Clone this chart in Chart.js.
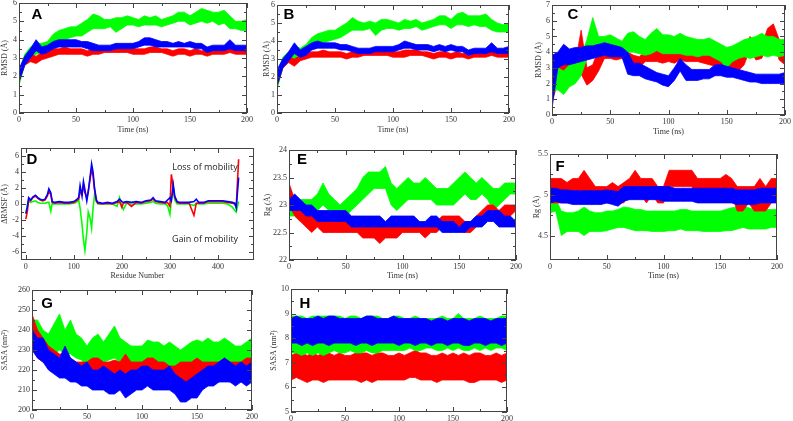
<!DOCTYPE html>
<html>
<head>
<meta charset="utf-8">
<script src="https://cdn.jsdelivr.net/npm/chart.js@4"></script>
<style>
  body { margin: 0; background: #fff; }
  #wrap { position: relative; width: 793px; height: 421px; overflow: hidden; }
  .panel { position: absolute; }
</style>
</head>
<body>
<div id="wrap"></div>
<script>
// time axis (ns), sampled every 5 ns
const TIME = [0,5,10,15,20,25,30,35,40,45,50,55,60,65,70,75,80,85,90,95,100,105,110,115,120,125,130,135,140,145,150,155,160,165,170,175,180,185,190,195,200];

// tick labels
const TICKS_TIME = [0,50,100,150,200];
const TICKS_RMSD = [0,1,2,3,4,5,6];
const TICKS_RMSD_C = [0,1,2,3,4,5,6,7];
const TICKS_RES = [0,100,200,300,400];
const TICKS_DRMSF = [-6,-4,-2,0,2,4,6];
const TICKS_RG_E = [22,22.5,23,23.5,24];
const TICKS_RG_F = [4.5,5,5.5];
const TICKS_SASA_G = [200,210,220,230,240,250,260];
const TICKS_SASA_H = [5,6,7,8,9,10];

// A - RMSD (lower / upper edge of each noisy trace)
const aGreenLo = [1.5,2.6,3.0,3.2,3.3,3.4,3.6,3.8,4.0,4.1,4.2,4.2,4.4,4.6,4.6,4.6,4.7,4.4,4.6,4.8,4.8,4.7,4.8,4.8,4.8,4.7,4.8,4.9,5.0,5.0,4.8,4.9,5.0,4.9,5.0,4.8,4.9,4.6,4.6,4.5,4.5];
const aGreenHi = [2.2,3.2,3.6,3.8,3.8,3.9,4.3,4.5,4.6,4.7,4.7,4.9,5.1,5.4,5.3,5.1,5.1,5.2,5.2,5.3,5.2,5.1,5.3,5.2,5.3,5.1,5.2,5.3,5.5,5.5,5.3,5.5,5.7,5.6,5.5,5.5,5.6,5.3,5.0,5.0,5.1];
const aBlueLo = [1.7,2.6,3.0,3.4,3.2,3.3,3.5,3.6,3.6,3.6,3.6,3.6,3.5,3.4,3.4,3.4,3.4,3.5,3.5,3.5,3.5,3.6,3.7,3.7,3.6,3.6,3.6,3.6,3.6,3.6,3.6,3.5,3.5,3.3,3.4,3.4,3.4,3.5,3.4,3.4,3.4];
const aBlueHi = [2.4,3.1,3.5,4.0,3.6,3.7,3.9,4.0,4.0,4.0,4.0,3.9,3.9,3.8,3.7,3.7,3.7,3.8,3.8,3.8,3.8,3.9,4.1,4.1,4.0,3.9,3.9,3.8,3.9,3.8,3.9,3.8,3.8,3.6,3.7,3.7,3.7,4.0,3.7,3.7,3.7];
const aRedLo = [1.7,2.6,2.8,2.7,2.9,3.0,3.1,3.2,3.2,3.2,3.2,3.2,3.1,3.2,3.2,3.3,3.3,3.3,3.3,3.3,3.2,3.2,3.2,3.3,3.3,3.3,3.2,3.1,3.2,3.2,3.1,3.2,3.2,3.1,3.2,3.2,3.2,3.3,3.2,3.2,3.2];
const aRedHi = [2.3,3.0,3.2,3.1,3.3,3.4,3.5,3.5,3.6,3.5,3.5,3.5,3.4,3.5,3.5,3.6,3.6,3.6,3.6,3.5,3.5,3.5,3.5,3.6,3.6,3.5,3.5,3.4,3.5,3.5,3.4,3.5,3.4,3.4,3.5,3.5,3.5,3.6,3.5,3.5,3.5];

// B - RMSD
const bGreenLo = [1.3,2.5,2.8,3.0,3.1,3.2,3.6,3.8,3.9,4.0,4.1,4.2,4.4,4.6,4.6,4.6,4.7,4.3,4.6,4.7,4.7,4.6,4.7,4.7,4.8,4.6,4.7,4.8,4.9,4.9,4.7,4.9,4.9,4.8,4.9,4.8,4.8,4.6,4.5,4.5,4.5];
const bGreenHi = [2.2,3.1,3.4,3.7,3.6,3.8,4.2,4.4,4.5,4.6,4.6,4.8,5.0,5.3,5.1,5.0,5.1,5.0,5.2,5.2,5.1,5.0,5.2,5.1,5.2,5.0,5.1,5.2,5.4,5.4,5.2,5.5,5.6,5.4,5.4,5.4,5.5,5.2,5.0,4.9,5.0];
const bBlueLo = [1.5,2.5,2.9,3.3,3.1,3.2,3.5,3.6,3.6,3.6,3.6,3.5,3.5,3.4,3.3,3.3,3.3,3.4,3.4,3.4,3.4,3.5,3.6,3.6,3.5,3.5,3.5,3.4,3.5,3.4,3.5,3.4,3.4,3.2,3.3,3.3,3.3,3.4,3.3,3.3,3.3];
const bBlueHi = [2.4,3.0,3.4,3.9,3.5,3.7,3.9,4.0,3.9,3.9,3.9,3.8,3.8,3.7,3.6,3.6,3.6,3.7,3.7,3.7,3.7,3.8,4.0,3.9,3.8,3.8,3.8,3.7,3.8,3.7,3.8,3.7,3.7,3.5,3.6,3.6,3.6,3.9,3.6,3.6,3.7];
const bRedLo = [1.5,2.5,2.8,2.6,2.9,3.0,3.1,3.1,3.1,3.1,3.1,3.1,3.0,3.1,3.1,3.2,3.2,3.2,3.2,3.2,3.1,3.1,3.1,3.2,3.2,3.2,3.1,3.0,3.1,3.1,3.0,3.1,3.1,3.0,3.1,3.1,3.1,3.2,3.1,3.1,3.1];
const bRedHi = [2.2,2.9,3.1,3.0,3.2,3.3,3.4,3.4,3.5,3.4,3.4,3.4,3.3,3.4,3.4,3.5,3.5,3.5,3.5,3.4,3.4,3.4,3.5,3.5,3.5,3.4,3.4,3.3,3.4,3.4,3.3,3.4,3.3,3.3,3.4,3.4,3.4,3.5,3.5,3.5,3.6];

// C - RMSD
const cBlueLo = [0.4,3.0,3.2,3.2,3.3,3.4,3.5,3.6,3.7,3.8,3.7,3.7,3.7,2.6,2.5,2.5,2.3,2.2,2.1,1.9,1.8,2.2,2.8,2.2,2.2,2.2,2.3,2.3,2.5,2.5,2.4,2.4,2.3,2.2,2.1,2.1,2.0,2.0,2.0,2.0,2.0];
const cBlueHi = [3.8,4.0,4.5,4.2,4.3,4.3,4.4,4.4,4.5,4.6,4.5,4.4,4.3,4.0,3.3,3.3,3.1,2.9,2.7,2.6,2.5,3.0,3.6,3.2,2.9,2.9,2.9,2.9,3.2,3.2,3.1,3.0,2.9,2.8,2.7,2.6,2.6,2.6,2.6,2.6,2.7];
const cGreenLo = [1.5,1.6,1.3,1.8,2.0,2.5,3.6,3.9,3.9,3.8,3.9,3.9,3.8,4.0,4.0,3.9,3.8,3.9,4.1,3.9,3.9,3.9,3.9,3.8,3.8,3.7,3.8,3.8,3.6,3.4,3.0,3.4,3.6,3.7,3.6,3.7,3.8,3.7,3.8,3.7,3.8];
const cGreenHi = [2.8,3.0,2.8,3.2,3.4,3.8,4.8,6.2,5.0,5.0,5.1,4.9,4.7,5.2,5.3,5.0,4.8,5.2,5.5,5.1,5.1,5.0,5.2,5.0,4.9,4.8,4.8,4.9,4.7,4.5,4.3,4.4,4.6,4.8,4.9,5.0,5.2,5.0,5.0,4.8,4.8];
const cRedLo = [0.9,2.0,2.4,2.2,2.4,2.6,1.9,2.2,2.8,3.6,3.6,3.5,3.6,3.3,3.2,3.0,3.4,3.4,3.4,3.3,3.4,3.3,3.5,3.4,3.4,3.4,3.3,3.2,3.1,3.0,3.0,2.8,2.8,3.2,4.2,3.5,3.6,4.5,4.8,3.5,3.2];
const cRedHi = [2.8,3.5,3.5,3.2,3.3,5.4,3.0,3.2,4.2,4.3,4.3,4.2,4.2,4.0,3.8,3.7,4.1,4.4,4.2,4.0,4.2,4.0,4.3,4.1,4.0,4.0,4.0,3.9,3.8,3.8,3.7,3.6,3.8,4.3,5.0,4.3,4.4,5.5,5.8,4.8,4.0];

// D - delta RMSF per residue
const RESIDUE = [0,3,6,10,15,20,25,30,35,40,45,48,52,55,60,70,80,90,100,105,110,113,117,120,123,127,130,134,137,140,143,147,150,160,170,180,190,195,200,203,210,220,230,240,250,260,265,270,280,290,295,300,303,307,310,315,320,330,340,350,355,360,370,380,390,400,410,420,430,435,438,443];
const dBlue = [-1.2,-0.4,0.8,0.5,0.9,1.1,0.8,0.6,0.5,0.6,1.2,1.9,1.4,0.3,0.2,0.3,0.2,0.2,0.3,0.5,0.8,2.3,1.0,2.8,1.8,0.4,1.5,3.5,5.0,4.0,2.0,0.5,0.2,0.1,0.2,0.1,0.3,0.6,0.3,0.2,0.3,0.2,0.3,0.2,0.4,0.5,0.8,0.4,0.3,0.2,0.5,0.8,0.4,2.4,1.0,0.3,0.2,0.2,0.2,0.3,0.6,0.2,0.2,0.4,0.4,0.4,0.4,0.3,0.2,0.1,-0.5,3.3];
const dRed = [-1.9,-1.0,0.5,0.4,0.8,1.0,0.7,0.5,0.4,0.5,1.0,1.6,1.2,0.2,0.1,0.2,0.1,0.1,0.2,0.4,0.6,1.5,1.2,2.4,1.4,0.8,1.6,3.2,4.3,3.5,1.8,0.3,0.1,0.0,0.1,0.0,0.2,0.3,-0.4,0.1,0.2,-0.3,0.2,0.1,0.3,0.4,0.6,0.3,0.2,0.1,0.2,-0.3,3.7,2.0,0.8,0.2,0.1,0.1,0.1,-1.4,0.1,0.1,0.1,0.3,0.3,0.3,0.3,0.2,0.1,0.0,-0.3,5.6];
const dGreen = [-1.2,-0.3,0.3,0.2,0.3,0.4,0.2,0.1,0.1,0.1,0.2,0.2,-0.9,0.1,0.0,0.0,0.0,0.0,0.1,0.2,0.5,-0.5,-2.5,-4.5,-5.8,-3.5,-1.0,-1.8,-3.0,-0.5,1.1,0.4,0.0,0.0,0.0,0.0,-0.3,0.8,-0.2,-0.7,0.1,0.0,0.0,0.0,0.1,0.2,0.3,0.1,0.0,0.0,-0.2,-1.3,0.5,2.0,0.5,0.0,0.0,0.0,0.0,-0.2,0.1,0.0,0.0,0.1,0.1,0.1,0.1,0.0,-0.4,-0.8,-1.0,0.3];

// E - Rg
const eGreenLo = [22.8,22.8,22.7,22.8,22.8,22.9,23.0,22.9,22.8,22.8,22.8,22.9,23.0,23.1,23.2,23.3,23.3,23.3,23.0,22.9,23.0,23.1,23.1,23.1,23.1,23.1,23.0,23.0,23.0,23.0,23.1,23.2,23.1,23.1,23.2,23.1,22.9,23.0,23.1,23.2,23.2];
const eGreenHi = [23.2,23.1,23.1,23.1,23.1,23.2,23.4,23.2,23.1,23.0,23.1,23.2,23.3,23.5,23.6,23.6,23.6,23.7,23.4,23.3,23.4,23.5,23.4,23.4,23.5,23.4,23.3,23.3,23.3,23.4,23.5,23.6,23.5,23.4,23.5,23.4,23.3,23.3,23.4,23.4,23.4];
const eRedLo = [23.0,22.8,22.7,22.6,22.5,22.6,22.5,22.5,22.5,22.5,22.5,22.5,22.5,22.4,22.4,22.4,22.3,22.4,22.4,22.4,22.5,22.5,22.5,22.5,22.4,22.5,22.5,22.6,22.6,22.6,22.6,22.5,22.5,22.6,22.7,22.8,22.8,22.7,22.8,22.8,22.9];
const eRedHi = [23.4,23.1,23.0,22.9,22.8,22.8,22.8,22.8,22.7,22.8,22.7,22.7,22.7,22.6,22.6,22.6,22.6,22.6,22.6,22.6,22.7,22.7,22.7,22.7,22.6,22.7,22.7,22.8,22.8,22.8,22.8,22.7,22.7,22.8,22.9,23.0,23.0,22.9,23.0,23.0,23.0];
const eBlueLo = [22.9,22.9,22.9,22.8,22.8,22.7,22.7,22.7,22.7,22.7,22.7,22.6,22.6,22.6,22.6,22.6,22.6,22.6,22.6,22.6,22.6,22.6,22.6,22.6,22.6,22.6,22.6,22.5,22.5,22.5,22.5,22.5,22.6,22.6,22.6,22.7,22.7,22.6,22.6,22.6,22.6];
const eBlueHi = [23.1,23.2,23.1,23.0,23.0,22.9,22.9,22.9,22.9,22.9,22.9,22.8,22.8,22.8,22.8,22.8,22.8,22.7,22.8,22.8,22.8,22.8,22.8,22.7,22.7,22.8,22.8,22.7,22.7,22.7,22.6,22.7,22.7,22.8,22.8,22.9,22.9,22.9,22.8,22.8,22.7];

// F - Rg
const fRedLo = [4.9,4.9,4.9,4.9,4.9,4.9,4.9,4.9,4.9,4.9,4.9,4.9,4.9,4.9,5.0,5.0,5.0,4.9,5.0,4.9,4.9,5.1,5.1,5.1,5.1,5.1,4.9,5.0,5.0,5.0,5.0,5.0,5.0,4.8,4.8,4.9,4.8,4.8,4.8,4.9,5.0];
const fRedHi = [5.2,5.2,5.2,5.15,5.2,5.2,5.3,5.2,5.1,5.1,5.1,5.15,5.1,5.15,5.2,5.3,5.2,5.2,5.2,5.1,5.1,5.3,5.3,5.3,5.3,5.3,5.2,5.2,5.2,5.2,5.2,5.25,5.2,5.1,5.1,5.1,5.1,5.2,5.1,5.2,5.2];
const fBlueLo = [4.9,4.92,4.9,4.9,4.88,4.88,4.88,4.88,4.88,4.88,4.9,4.88,4.86,4.92,4.94,4.94,4.94,4.94,4.94,4.94,4.92,4.92,4.92,4.92,4.92,4.92,4.9,4.9,4.9,4.9,4.9,4.9,4.9,4.88,4.88,4.88,4.88,4.9,4.9,4.9,4.9];
const fBlueHi = [5.08,5.08,5.06,5.06,5.05,5.05,5.05,5.05,5.05,5.05,5.06,5.05,5.04,5.1,5.1,5.1,5.1,5.1,5.1,5.1,5.1,5.1,5.08,5.08,5.08,5.08,5.08,5.08,5.08,5.08,5.08,5.08,5.08,5.06,5.06,5.06,5.06,5.08,5.08,5.08,5.08];
const fGreenLo = [4.78,4.8,4.5,4.55,4.55,4.55,4.5,4.55,4.55,4.55,4.56,4.58,4.6,4.6,4.58,4.56,4.56,4.56,4.55,4.55,4.55,4.56,4.56,4.58,4.56,4.56,4.56,4.55,4.55,4.55,4.55,4.56,4.56,4.58,4.6,4.58,4.58,4.58,4.58,4.6,4.6];
const fGreenHi = [4.95,4.95,4.8,4.78,4.78,4.8,4.85,4.8,4.78,4.78,4.8,4.8,4.82,4.85,4.84,4.82,4.82,4.8,4.8,4.8,4.8,4.8,4.8,4.82,4.82,4.8,4.8,4.8,4.8,4.8,4.8,4.82,4.84,4.85,4.86,4.84,4.82,4.82,4.82,4.82,4.82];

// G - SASA
const gGreenLo = [230,232,228,226,228,230,228,228,226,225,222,226,226,224,225,226,224,222,222,220,222,223,222,222,220,222,220,218,220,222,222,222,224,222,222,224,222,220,221,222,224];
const gGreenHi = [245,245,240,238,243,248,240,245,238,236,232,236,238,234,238,242,236,234,232,232,232,235,234,234,232,234,232,230,232,234,235,234,236,234,234,236,234,232,232,234,236];
const gRedLo = [232,226,224,222,220,218,218,216,214,215,214,215,216,214,214,215,214,216,215,214,214,216,215,214,214,212,212,214,212,214,216,214,214,215,214,216,214,214,214,216,216];
const gRedHi = [248,240,236,232,230,228,228,226,224,224,224,226,226,224,224,225,224,228,224,224,224,226,226,224,224,222,222,224,224,224,226,224,224,224,224,226,224,224,224,226,226];
const gBlueLo = [230,226,224,220,218,216,216,214,214,212,212,210,210,210,208,208,210,206,208,210,210,212,210,210,210,210,208,204,204,206,206,210,212,212,214,214,214,212,214,212,214];
const gBlueHi = [240,236,236,230,228,226,232,226,224,222,224,220,220,222,220,218,220,218,220,220,222,222,220,220,220,222,218,216,214,216,218,220,222,222,224,226,224,222,224,222,224];

// H - SASA
const hGreenLo = [7.4,7.4,7.3,7.4,7.3,7.4,7.3,7.4,7.5,7.4,7.4,7.5,7.4,7.4,7.5,7.4,7.4,7.5,7.5,7.5,7.5,7.5,7.6,7.5,7.5,7.6,7.6,7.5,7.5,7.6,7.5,7.6,7.5,7.5,7.6,7.5,7.6,7.5,7.6,7.6,7.5];
const hGreenHi = [8.9,8.9,8.9,8.8,8.9,8.9,8.9,8.9,8.9,8.9,8.8,8.9,8.9,8.8,8.9,8.9,8.9,8.8,8.8,8.9,8.9,8.8,8.8,8.9,8.8,8.8,8.8,8.8,8.9,8.8,8.8,9.0,8.8,8.8,8.8,8.9,8.8,8.8,8.8,8.9,8.9];
const hBlueLo = [7.8,7.8,7.7,7.8,7.7,7.8,7.8,7.7,7.8,7.8,7.8,7.8,7.7,7.8,7.8,7.7,7.8,7.8,7.8,7.8,7.7,7.8,7.8,7.7,7.8,7.8,7.7,7.8,7.8,7.7,7.8,7.8,7.7,7.7,7.8,7.8,7.7,7.8,7.8,7.7,7.8];
const hBlueHi = [8.8,8.9,8.8,8.8,8.8,8.9,8.8,8.9,8.9,8.8,8.8,8.8,8.8,8.8,8.9,8.9,8.8,8.8,8.8,8.9,8.8,8.8,8.8,8.8,8.8,8.8,8.7,8.8,8.8,8.7,8.8,8.8,8.8,8.7,8.8,8.8,8.8,8.7,8.8,8.8,8.8];
const hRedLo = [6.3,6.4,6.3,6.2,6.3,6.3,6.2,6.3,6.3,6.3,6.3,6.3,6.3,6.2,6.3,6.2,6.3,6.3,6.3,6.3,6.3,6.3,6.4,6.4,6.3,6.3,6.3,6.2,6.3,6.3,6.3,6.3,6.3,6.2,6.2,6.3,6.3,6.3,6.3,6.2,6.3];
const hRedHi = [7.3,7.4,7.4,7.3,7.4,7.3,7.4,7.4,7.3,7.4,7.3,7.3,7.4,7.4,7.4,7.3,7.4,7.4,7.3,7.3,7.4,7.3,7.4,7.5,7.4,7.4,7.3,7.3,7.4,7.3,7.4,7.3,7.4,7.3,7.4,7.4,7.3,7.3,7.4,7.3,7.4];

const GREEN = '#00ff00', RED = '#ff0000', BLUE = '#0000ff';
const SERIF = "'Liberation Serif', 'DejaVu Serif', serif";

function pts(xs, ys) {
    return ys.map((y, i) => ({ x: xs[i], y: y }));
}

// upper edge fills down to the lower edge; first dataset ends up on top
function band(lo, hi, color) {
    return [
        { data: pts(TIME, hi), borderColor: color, backgroundColor: color, fill: '+1', borderWidth: 0.8 },
        { data: pts(TIME, lo), borderColor: color, backgroundColor: color, fill: false, borderWidth: 0.8 },
    ];
}

function line(xs, ys, color) {
    return { data: pts(xs, ys), borderColor: color, backgroundColor: color, fill: false, borderWidth: 1.6 };
}

// xmgrace-like frame: box, inward major/minor ticks, panel letter
const framePlugin = {
    id: 'frame',
    afterDraw(chart) {
        const { ctx, chartArea: a } = chart;
        const o = chart.options.plugins.frame;
        ctx.save();
        ctx.strokeStyle = '#444';
        ctx.lineWidth = 1;
        ctx.strokeRect(a.left + 0.5, a.top + 0.5, a.right - a.left - 1, a.bottom - a.top - 1);
        const mark = (scale, list, len) => {
            list.forEach(v => {
                const p = Math.round(scale.getPixelForValue(v)) + 0.5;
                ctx.beginPath();
                if (scale.isHorizontal()) {
                    ctx.moveTo(p, a.bottom); ctx.lineTo(p, a.bottom - len);
                    ctx.moveTo(p, a.top); ctx.lineTo(p, a.top + len);
                } else {
                    ctx.moveTo(a.left, p); ctx.lineTo(a.left + len, p);
                    ctx.moveTo(a.right, p); ctx.lineTo(a.right - len, p);
                }
                ctx.stroke();
            });
        };
        ['x', 'y'].forEach(id => {
            const s = chart.scales[id];
            const major = s.ticks.map(t => t.value);
            const minor = [];
            for (let i = 0; i < major.length - 1; i++) minor.push((major[i] + major[i + 1]) / 2);
            mark(s, major, 5);
            mark(s, minor, 3);
        });
        ctx.fillStyle = '#000';
        ctx.font = "bold 15px 'Liberation Sans', Arial, sans-serif";
        ctx.textAlign = 'center';
        ctx.textBaseline = 'middle';
        ctx.fillText(o.letter, a.left + o.dx, a.top + o.dy);
        (o.notes || []).forEach(n => {
            ctx.font = "9px 'Open Sans', 'Liberation Sans', sans-serif";
            ctx.fillStyle = '#222';
            ctx.fillText(n.text, a.left + n.dx, a.top + n.dy);
        });
        ctx.restore();
    }
};

function axis(min, max, ticks, title, size) {
    return {
        type: 'linear', min: min, max: max,
        afterBuildTicks: s => { s.ticks = ticks.map(v => ({ value: v })); },
        afterFit: s => {
            if (s.isHorizontal()) s.height = size; else s.width = size;
            s.paddingLeft = s.paddingRight = s.paddingTop = s.paddingBottom = 0;
        },
        grid: { display: false, drawTicks: false },
        border: { display: false },
        ticks: {
            padding: 2, color: '#333', font: { family: SERIF, size: 8 }, maxRotation: 0, autoSkip: false,
            callback: v => String(+v.toFixed(2)),
        },
        title: { display: !!title, text: title, color: '#333', padding: 0, font: { family: SERIF, size: 8 } },
    };
}

const PANELS = [
    { rect: [19, 3, 247, 113], yw: 19, xh: 22, letter: 'A', dx: 18, dy: 12,
      x: [0, 200, TICKS_TIME, 'Time (ns)'], y: [0, 6, TICKS_RMSD, 'RMSD (Å)'],
      sets: [...band(aBlueLo, aBlueHi, BLUE), ...band(aRedLo, aRedHi, RED), ...band(aGreenLo, aGreenHi, GREEN)] },
    { rect: [277, 5, 509, 113], yw: 15, xh: 22, letter: 'B', dx: 12, dy: 10,
      x: [0, 200, TICKS_TIME, 'Time (ns)'], y: [0, 6, TICKS_RMSD, 'RMSD (Å)'],
      sets: [...band(bBlueLo, bBlueHi, BLUE), ...band(bRedLo, bRedHi, RED), ...band(bGreenLo, bGreenHi, GREEN)] },
    { rect: [552, 5, 785, 115], yw: 18, xh: 22, letter: 'C', dx: 21, dy: 10,
      x: [0, 200, TICKS_TIME, 'Time (ns)'], y: [0, 7, TICKS_RMSD_C, 'RMSD (Å)'],
      sets: [...band(cBlueLo, cBlueHi, BLUE), ...band(cGreenLo, cGreenHi, GREEN), ...band(cRedLo, cRedHi, RED)] },
    { rect: [21, 148, 254, 260], yw: 21, xh: 21, letter: 'D', dx: 11, dy: 12,
      x: [-10, 475, TICKS_RES, 'Residue Number'], y: [-7, 7, TICKS_DRMSF, 'ΔRMSF (Å)'],
      notes: [{ text: 'Loss of mobility', dx: 184, dy: 19 }, { text: 'Gain of mobility', dx: 184, dy: 91 }],
      sets: [line(RESIDUE, dBlue, BLUE), line(RESIDUE, dRed, RED), line(RESIDUE, dGreen, GREEN)] },
    { rect: [289, 150, 516, 260], yw: 26, xh: 21, letter: 'E', dx: 13, dy: 10,
      x: [0, 200, TICKS_TIME, 'Time (ns)'], y: [22, 24, TICKS_RG_E, 'Rg (Å)'],
      sets: [...band(eBlueLo, eBlueHi, BLUE), ...band(eRedLo, eRedHi, RED), ...band(eGreenLo, eGreenHi, GREEN)] },
    { rect: [550, 154, 777, 260], yw: 18, xh: 21, letter: 'F', dx: 10, dy: 13,
      x: [0, 200, TICKS_TIME, 'Time (ns)'], y: [4.2, 5.5, TICKS_RG_F, 'Rg (Å)'],
      sets: [...band(fBlueLo, fBlueHi, BLUE), ...band(fRedLo, fRedHi, RED), ...band(fGreenLo, fGreenHi, GREEN)] },
    { rect: [32, 290, 252, 410], yw: 32, xh: 11, letter: 'G', dx: 15, dy: 14,
      x: [0, 200, TICKS_TIME, ''], y: [200, 260, TICKS_SASA_G, 'SASA (nm²)'],
      sets: [...band(gBlueLo, gBlueHi, BLUE), ...band(gRedLo, gRedHi, RED), ...band(gGreenLo, gGreenHi, GREEN)] },
    { rect: [291, 289, 507, 412], yw: 22, xh: 9, letter: 'H', dx: 14, dy: 15,
      x: [0, 200, TICKS_TIME, ''], y: [5, 10, TICKS_SASA_H, 'SASA (nm²)'],
      sets: [...band(hBlueLo, hBlueHi, BLUE), ...band(hGreenLo, hGreenHi, GREEN), ...band(hRedLo, hRedHi, RED)] },
];

const PT = 5, PR = 8;
const wrap = document.getElementById('wrap');

PANELS.forEach(p => {
    const [l, t, r, b] = p.rect;
    const box = document.createElement('div');
    box.className = 'panel';
    box.style.left = (l - p.yw) + 'px';
    box.style.top = (t - PT) + 'px';
    box.style.width = (r - l + p.yw + PR) + 'px';
    box.style.height = (b - t + PT + p.xh) + 'px';
    const canvas = document.createElement('canvas');
    box.appendChild(canvas);
    wrap.appendChild(box);

    new Chart(canvas, {
        type: 'line',
        data: { datasets: p.sets },
        plugins: [framePlugin],
        options: {
            responsive: true,
            maintainAspectRatio: false,
            animation: false,
            layout: { padding: { top: PT, right: PR, left: 0, bottom: 0 } },
            elements: { point: { radius: 0 }, line: { tension: 0 } },
            plugins: {
                legend: { display: false },
                tooltip: { enabled: false },
                filler: { propagate: false },
                frame: { letter: p.letter, dx: p.dx, dy: p.dy, notes: p.notes },
            },
            scales: {
                x: axis(p.x[0], p.x[1], p.x[2], p.x[3], p.xh),
                y: axis(p.y[0], p.y[1], p.y[2], p.y[3], p.yw),
            },
        },
    });
});
</script>
</body>
</html>
